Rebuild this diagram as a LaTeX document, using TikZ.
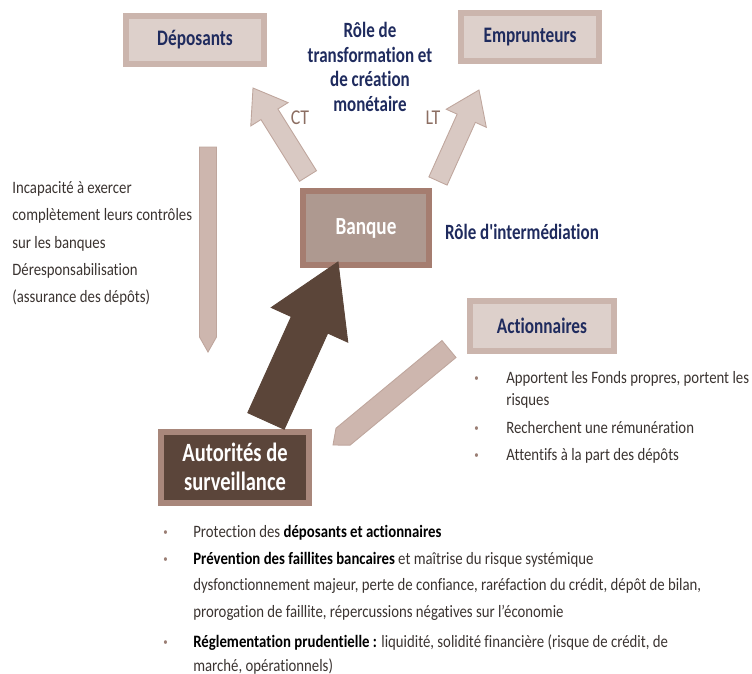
\documentclass[tikz,border=0pt]{standalone}
\usepackage{fontspec}
\setmainfont{Carlito}[FakeStretch=0.85,Ligatures=NoCommon]
\newfontfamily\headfont{Carlito}[FakeStretch=0.78,Ligatures=NoCommon]
\usepackage{tikz}
\usetikzlibrary{calc,positioning}
\definecolor{navy}{HTML}{1F2B5E}
\definecolor{bedge}{HTML}{CBB5AD}
\definecolor{bfill}{HTML}{DDD0CB}
\definecolor{kedge}{HTML}{A57D70}
\definecolor{kfill}{HTML}{AE9990}
\definecolor{aedge}{HTML}{A8877B}
\definecolor{afill}{HTML}{5B453A}
\definecolor{arlight}{HTML}{D9C9C3}
\definecolor{arline}{HTML}{BFA69D}
\definecolor{armid}{HTML}{CDB6AE}
\definecolor{ardark}{HTML}{5B4539}
\definecolor{ctlt}{HTML}{8C6E62}
\definecolor{txt}{HTML}{3A3330}
\definecolor{dotc}{HTML}{9A7E74}
\tikzset{
  % boxes with a thick frame of the same hue
  actor/.style  = {rectangle, draw=bedge, fill=bfill, line width=0.12cm,
                   font=\headfont\fontsize{12.6}{14}\selectfont\bfseries, text=navy,
                   align=center},
  bank/.style   = {rectangle, draw=kedge, fill=kfill, line width=0.12cm,
                   font=\headfont\fontsize{14}{16}\selectfont\bfseries, text=white},
  super/.style  = {rectangle, draw=aedge, fill=afill, line width=0.12cm,
                   font=\headfont\fontsize{15}{16.5}\selectfont\bfseries, text=white,
                   align=center},
  role/.style   = {font=\headfont\fontsize{12.4}{13.9}\selectfont\bfseries, text=navy,
                   align=center},
  tag/.style    = {font=\fontsize{12}{14}\selectfont, text=ctlt},
  body/.style   = {font=\fontsize{9.9}{15.6}\selectfont, text=txt, align=left,
                   inner sep=0pt},
  pale/.style   = {fill=arlight, draw=arline, line width=0.5pt},
  midar/.style  = {fill=armid, draw=arline, line width=0.5pt},
  darkar/.style = {fill=ardark, draw=ardark, line width=0.5pt},
}
% block arrow: [style]{from}{to}{half shaft}{half head}{head length}
\newcommand{\blockarrow}[6][]{%
  \coordinate (ba-s) at (#2); \coordinate (ba-t) at (#3);
  \coordinate (ba-h) at ($(ba-t)!#6!(ba-s)$);
  \path[#1] ($(ba-s)!#4!90:(ba-t)$) -- ($(ba-h)!#4!90:(ba-t)$)
    -- ($(ba-h)!#5!90:(ba-t)$) -- (ba-t) -- ($(ba-h)!#5!-90:(ba-t)$)
    -- ($(ba-h)!#4!-90:(ba-t)$) -- ($(ba-s)!#4!-90:(ba-t)$) -- cycle;}
\newcommand{\dotmark}{\textcolor{dotc}{\raisebox{0.25ex}{\scalebox{0.6}{\textbullet}}}}
\begin{document}
\begin{tikzpicture}[x=0.02cm,y=-0.02cm]
\useasboundingbox (0,0) rectangle (752,674);
% --- boxes ----------------------------------------------------------------
\node[actor, minimum width=2.76cm, minimum height=0.96cm] (dep) at (195,40) {Déposants};
\node[actor, minimum width=2.78cm, minimum height=0.96cm] (emp) at (530,37) {Emprunteurs};
\node[bank, minimum width=2.52cm, minimum height=1.48cm] (bank) at (366,228) {Banque};
\node[actor, minimum width=2.90cm, minimum height=1.00cm] (act) at (542,326) {Actionnaires};
\node[super, minimum width=2.98cm, minimum height=1.42cm] (aut) at (235,467)
     {Autorités de\\surveillance};
% --- roles ----------------------------------------------------------------
\node[role] (transf) at (370,67) {Rôle de\\transformation et\\de création\\monétaire};
\node[role, anchor=west] (inter) at (439,232) {Rôle d'intermédiation};
\node[tag] (ct) at (300,118) {CT};
\node[tag] (lt) at (433,118) {LT};
% --- arrow ends -----------------------------------------------------------
\coordinate (ct-s) at (308,176);  \coordinate (ct-t) at (253,88);
\coordinate (lt-s) at (438,181);  \coordinate (lt-t) at (479,90);
\coordinate (dn-s) at (208,147);  \coordinate (dn-t) at (208,352);
\coordinate (up-s) at (266,421);  \coordinate (up-t) at (338,262);
\coordinate (sh-s) at (449,349);  \coordinate (sh-t) at (333,445);
% --- block arrows ---------------------------------------------------------
\blockarrow[pale]{ct-s}{ct-t}{0.2cm}{0.44cm}{0.62cm}
\blockarrow[pale]{lt-s}{lt-t}{0.2cm}{0.44cm}{0.62cm}
\blockarrow[midar]{dn-s}{dn-t}{0.17cm}{0.17cm}{0.3cm}
\blockarrow[darkar]{up-s}{up-t}{0.4cm}{0.84cm}{1.38cm}
\blockarrow[midar]{sh-s}{sh-t}{0.22cm}{0.22cm}{0.26cm}
% --- texts ----------------------------------------------------------------
\node[body, anchor=north west] (users) at (12,181)
     {Incapacité à exercer\\complètement leurs contrôles\\sur les banques\\
      Déresponsabilisation\\(assurance des dépôts)};
\node[body, anchor=north west] (actlist) at (474,364)
     {\begin{tabular}{@{}p{0.64cm}@{}l@{}}
      \dotmark & Apportent les Fonds propres, portent les\\[-3pt]
               & risques\\[0pt]
      \dotmark & Recherchent une rémunération\\[0pt]
      \dotmark & Attentifs à la part des dépôts
      \end{tabular}};
\node[body, anchor=north west] (autlist) at (163,518)
     {\begin{tabular}{@{}p{0.6cm}@{}l@{}}
      \dotmark & Protection des \textcolor{black}{\bfseries déposants et actionnaires}\\[-0.5pt]
      \dotmark & \textcolor{black}{\bfseries Prévention des faillites bancaires} et maîtrise du risque systémique\\[-0.5pt]
               & dysfonctionnement majeur, perte de confiance, raréfaction du crédit, dépôt de bilan,\\[-0.5pt]
               & prorogation de faillite, répercussions négatives sur l'économie\\[1.5pt]
      \dotmark & \textcolor{black}{\bfseries Réglementation prudentielle :} liquidité, solidité financière (risque de crédit, de\\[-1.5pt]
               & marché, opérationnels)
      \end{tabular}};
\end{tikzpicture}
\end{document}
